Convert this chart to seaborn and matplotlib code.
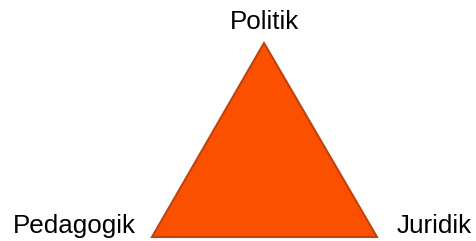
import numpy as np
import matplotlib
matplotlib.use('Agg')
import matplotlib.pyplot as plt
import seaborn as sns

# corners of the triangle (pixel space of the 476x241 picture, y downwards)
corners = ['Politik', 'Juridik', 'Pedagogik']
corner_x = [264, 377, 152]
corner_y = [43, 237, 237]

# where each label sits (baseline)
label_x = [265, 397, 13]
label_y = [29, 233, 233]
label_ha = ['center', 'left', 'left']

fill_color = '#fa5000'
edge_color = '#c2410c'

sns.set_theme(style='white')
plt.rcParams['font.family'] = ['Liberation Sans', 'DejaVu Sans']

fig = plt.figure(figsize=(4.76, 2.41), dpi=100)
ax = fig.add_axes([0, 0, 1, 1])
ax.set_xlim(0, 476)
ax.set_ylim(241, 0)
ax.axis('off')

ax.fill(corner_x, corner_y, facecolor=fill_color, edgecolor=edge_color,
        linewidth=1.5, joinstyle='miter')

for name, x, y, ha in zip(corners, label_x, label_y, label_ha):
    ax.text(x, y, name, ha=ha, va='baseline', fontsize=18.7, color='black')

fig.savefig('out.png', dpi=100)
